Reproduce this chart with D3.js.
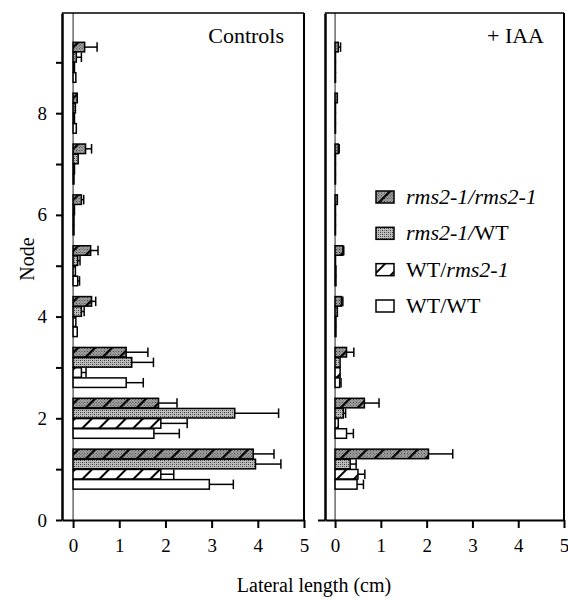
<!DOCTYPE html>
<html>
<head>
<meta charset="utf-8">
<script src="https://cdn.jsdelivr.net/npm/d3@7"></script>
<style>
body { margin: 0; background: #fff; }
text { font-family: "Liberation Serif", "Times New Roman", serif; fill: #000; }
</style>
</head>
<body>
<div id="chart"></div>
<script>
// node numbers and series
var nodes = [1, 2, 3, 4, 5, 6, 7, 8, 9]
var seriesNames = ["rms2-1/rms2-1", "rms2-1/WT", "WT/rms2-1", "WT/WT"]
var xTicks = [0, 1, 2, 3, 4, 5]
var yTicks = [0, 1, 2, 3, 4, 5, 6, 7, 8, 9]
var yTickLabels = ["0", "", "2", "", "4", "", "6", "", "8", ""]

// Controls (cm), node 1..9
var ctrlRmsRms    = [3.9, 1.85, 1.15, 0.4, 0.38, 0.18, 0.27, 0.09, 0.25]
var ctrlRmsRmsErr = [0.45, 0.4, 0.47, 0.09, 0.16, 0.05, 0.13, 0, 0.27]
var ctrlRmsWT     = [3.95, 3.5, 1.27, 0.18, 0.1, 0.03, 0.11, 0.05, 0.07]
var ctrlRmsWTErr  = [0.55, 0.95, 0.47, 0.06, 0.05, 0, 0, 0, 0.11]
var ctrlWTRms     = [1.9, 1.9, 0.18, 0.06, 0.05, 0.02, 0.03, 0.03, 0.03]
var ctrlWTRmsErr  = [0.28, 0.57, 0.1, 0, 0, 0, 0, 0, 0]
var ctrlWTWT      = [2.95, 1.75, 1.15, 0.09, 0.1, 0.02, 0.02, 0.07, 0.06]
var ctrlWTWTErr   = [0.52, 0.55, 0.37, 0, 0.04, 0, 0, 0, 0]

// + IAA (cm), node 1..9
var iaaRmsRms    = [2.04, 0.64, 0.25, 0.14, 0.17, 0.05, 0.07, 0.05, 0.07]
var iaaRmsRmsErr = [0.53, 0.32, 0.16, 0.03, 0.02, 0, 0.02, 0, 0.05]
var iaaRmsWT     = [0.33, 0.18, 0.11, 0.05, 0.01, 0.01, 0.01, 0.01, 0.01]
var iaaRmsWTErr  = [0.13, 0.05, 0, 0, 0, 0, 0, 0, 0]
var iaaWTRms     = [0.5, 0.07, 0.11, 0.02, 0.02, 0.01, 0.01, 0.01, 0.01]
var iaaWTRmsErr  = [0.15, 0, 0, 0, 0, 0, 0, 0, 0]
var iaaWTWT      = [0.48, 0.25, 0.1, 0.02, 0.02, 0.01, 0.01, 0.01, 0.01]
var iaaWTWTErr   = [0.14, 0.15, 0.03, 0, 0, 0, 0, 0, 0]

var fills = ["url(#hatchStip)", "url(#stip)", "url(#hatch)", "#fff"]
var serif = '"Liberation Serif", "Times New Roman", serif'

var svg = d3.select("#chart").append("svg")
    .attr("width", 568)
    .attr("height", 599)
var defs = svg.append("defs")

// stipple textures
function addStipple(id, base, dark, mid) {
    var p = defs.append("pattern").attr("id", id)
        .attr("patternUnits", "userSpaceOnUse").attr("width", 4).attr("height", 4)
    p.append("rect").attr("width", 4).attr("height", 4).attr("fill", base)
    p.append("rect").attr("x", 0).attr("y", 0).attr("width", 1).attr("height", 1).attr("fill", dark)
    p.append("rect").attr("x", 2).attr("y", 2).attr("width", 1).attr("height", 1).attr("fill", dark)
    p.append("rect").attr("x", 2).attr("y", 0).attr("width", 1).attr("height", 1).attr("fill", mid)
    p.append("rect").attr("x", 0).attr("y", 2).attr("width", 1).attr("height", 1).attr("fill", mid)
}
addStipple("stip", "#bdbdbd", "#3a3a3a", "#777")
addStipple("stipDark", "#a6a6a6", "#2a2a2a", "#606060")

var hs = defs.append("pattern").attr("id", "hatchStip")
    .attr("patternUnits", "userSpaceOnUse").attr("width", 12).attr("height", 12)
    .attr("patternTransform", "rotate(45)")
hs.append("rect").attr("width", 12).attr("height", 12).attr("fill", "url(#stipDark)")
hs.append("line").attr("x1", 1).attr("x2", 1).attr("y1", 0).attr("y2", 12)
    .attr("stroke", "#000").attr("stroke-width", 2.5)

var h = defs.append("pattern").attr("id", "hatch")
    .attr("patternUnits", "userSpaceOnUse").attr("width", 12).attr("height", 12)
    .attr("patternTransform", "rotate(45)")
h.append("rect").attr("width", 12).attr("height", 12).attr("fill", "#fff")
h.append("line").attr("x1", 1).attr("x2", 1).attr("y1", 0).attr("y2", 12)
    .attr("stroke", "#000").attr("stroke-width", 2)

var y = d3.scaleLinear().domain([0, 9.97]).range([520, 13])
var band = d3.scaleBand().domain(seriesNames).range([-20, 20]).paddingInner(0.06)

var panels = [
    { title: "Controls", x: d3.scaleLinear().domain([-0.24, 5]).range([62, 304]),
      vals: [ctrlRmsRms, ctrlRmsWT, ctrlWTRms, ctrlWTWT],
      errs: [ctrlRmsRmsErr, ctrlRmsWTErr, ctrlWTRmsErr, ctrlWTWTErr], labels: true },
    { title: "+ IAA", x: d3.scaleLinear().domain([-0.22, 5]).range([325, 564]),
      vals: [iaaRmsRms, iaaRmsWT, iaaWTRms, iaaWTWT],
      errs: [iaaRmsRmsErr, iaaRmsWTErr, iaaWTRmsErr, iaaWTWTErr], labels: false }
]

panels.forEach(function(p) {
    var x = p.x
    var g = svg.append("g")
    var left = x.range()[0], right = x.range()[1]

    // zero line
    g.append("line").attr("x1", x(0)).attr("x2", x(0))
        .attr("y1", y(0)).attr("y2", y(9.97))
        .attr("stroke", "#222").attr("stroke-width", 1)

    // frame top and right
    g.append("line").attr("x1", left).attr("x2", right).attr("y1", y(9.97)).attr("y2", y(9.97))
        .attr("stroke", "#000").attr("stroke-width", 1.5)
    g.append("line").attr("x1", right).attr("x2", right).attr("y1", y(9.97)).attr("y2", y(0))
        .attr("stroke", "#000").attr("stroke-width", 2)

    var rows = []
    seriesNames.forEach(function(s, si) {
        nodes.forEach(function(n, ni) {
            rows.push({ node: n, series: s, si: si, v: p.vals[si][ni], e: p.errs[si][ni] })
        })
    })

    var bh = band.bandwidth()
    // error bars first, then bars on top
    var eb = g.selectAll(".err").data(rows.filter(function(d) { return d.e > 0 }))
        .enter().append("g").attr("class", "err")
    eb.append("line")
        .attr("x1", function(d) { return x(d.v) })
        .attr("x2", function(d) { return x(d.v + d.e) })
        .attr("y1", function(d) { return y(d.node) + band(d.series) + bh / 2 })
        .attr("y2", function(d) { return y(d.node) + band(d.series) + bh / 2 })
        .attr("stroke", "#000").attr("stroke-width", 1.5)
    eb.append("line")
        .attr("x1", function(d) { return x(d.v + d.e) })
        .attr("x2", function(d) { return x(d.v + d.e) })
        .attr("y1", function(d) { return y(d.node) + band(d.series) })
        .attr("y2", function(d) { return y(d.node) + band(d.series) + bh })
        .attr("stroke", "#000").attr("stroke-width", 1.5)

    g.selectAll(".bar").data(rows).enter().append("rect")
        .attr("class", "bar")
        .attr("x", x(0))
        .attr("y", function(d) { return y(d.node) + band(d.series) })
        .attr("width", function(d) { return x(d.v) - x(0) })
        .attr("height", bh)
        .attr("fill", function(d) { return fills[d.si] })
        .attr("stroke", "#000").attr("stroke-width", 1.5)

    // x axis
    var xa = g.append("g").attr("transform", "translate(0," + y(0) + ")")
        .call(d3.axisBottom(x).tickValues(xTicks).tickFormat(d3.format("d"))
            .tickSize(8).tickSizeOuter(0).tickPadding(11))
    xa.select(".domain").attr("stroke-width", 2)
    xa.selectAll(".tick line").attr("stroke-width", 2)
    xa.selectAll("text").style("font-size", "19px").style("font-family", serif)

    // y axis
    var ya = g.append("g").attr("transform", "translate(" + left + ",0)")
        .call(d3.axisLeft(y).tickValues(p.labels ? yTicks : [0]).tickSize(p.labels ? 6 : 7).tickSizeOuter(0)
            .tickPadding(9).tickFormat(function(d, i) { return p.labels ? yTickLabels[i] : "" }))
    ya.select(".domain").attr("stroke-width", 2.5)
    ya.selectAll(".tick line").attr("stroke-width", 2)
    ya.selectAll("text").style("font-size", "19px").style("font-family", serif)

    g.append("text").attr("x", right - 20).attr("y", 43)
        .attr("text-anchor", "end").style("font-size", "22px").style("font-family", serif)
        .text(p.title)
})

// legend
var leg = svg.append("g").attr("transform", "translate(376,0)")
var legY = d3.scalePoint().domain(seriesNames).range([197, 306])
var legendParts = [
    [["rms2-1/rms2-1", true]],
    [["rms2-1/", true], ["WT", false]],
    [["WT/", false], ["rms2-1", true]],
    [["WT/WT", false]]
]
seriesNames.forEach(function(s, i) {
    leg.append("rect").attr("x", 0).attr("y", legY(s) - 6)
        .attr("width", 18).attr("height", 12)
        .attr("fill", fills[i]).attr("stroke", "#000").attr("stroke-width", 1.5)
    var t = leg.append("text").attr("x", 30).attr("y", legY(s) + 7)
        .style("font-size", "22px").style("font-family", serif)
    legendParts[i].forEach(function(part) {
        t.append("tspan").style("font-style", part[1] ? "italic" : "normal").text(part[0])
    })
})

// axis titles
svg.append("text").attr("transform", "translate(34,259) rotate(-90)")
    .attr("text-anchor", "middle").style("font-size", "20px").style("font-family", serif)
    .text("Node")
svg.append("text").attr("x", 314).attr("y", 592)
    .attr("text-anchor", "middle").style("font-size", "20px").style("font-family", serif)
    .text("Lateral length (cm)")
</script>
</body>
</html>
